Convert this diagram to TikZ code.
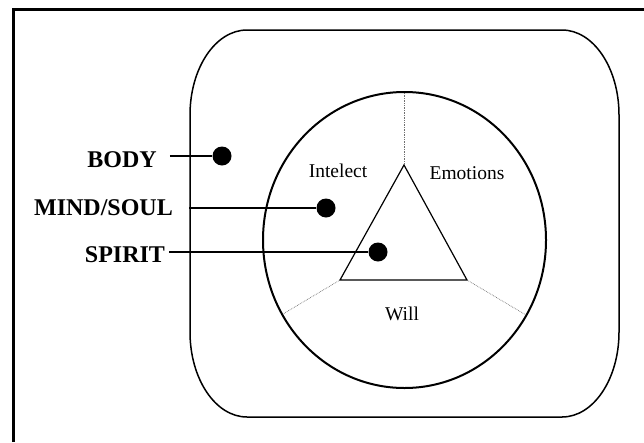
\documentclass[tikz,border=0pt]{standalone}
\usepackage{fontspec}
\setmainfont{Liberation Serif}
\usepackage{xcolor}
\usepackage{tikz}
\usetikzlibrary{positioning}
\definecolor{inkblack}{HTML}{000000}
\definecolor{sectorgray}{HTML}{707070}

\begin{document}
\begin{tikzpicture}[x=1pt, y=-1pt,
  biglabel/.style={anchor=base, inner sep=0pt, font=\fontsize{24}{24}\selectfont\bfseries},
  smalllabel/.style={anchor=base, inner sep=0pt, font=\fontsize{19.5}{20}\selectfont},
  dotnode/.style={circle, fill=inkblack, inner sep=0pt, minimum size=19pt},
  sector/.style={sectorgray, densely dotted, line width=0.7pt}]
  \useasboundingbox (0,0) rectangle (644,442);
  % frame
  \draw[inkblack, line width=3pt] (13.5,442) -- (13.5,9.5) -- (644,9.5);
  % body: rounded box
  \draw[inkblack, line width=1.5pt] (247,30) -- (562,30)
    arc[start angle=90, end angle=0, x radius=57pt, y radius=85pt] -- (619,332)
    arc[start angle=0, end angle=-90, x radius=57pt, y radius=85pt] -- (247,417)
    arc[start angle=270, end angle=180, x radius=57pt, y radius=85pt] -- (190,115)
    arc[start angle=180, end angle=90, x radius=57pt, y radius=85pt] -- cycle;
  % mind/soul: circle
  \draw[inkblack, line width=2pt] (404.5,240) ellipse [x radius=141.5pt, y radius=148pt];
  % spirit: triangle
  \coordinate (apex) at (404,165);
  \coordinate (wl) at (340,280);
  \coordinate (wr) at (467,280);
  \draw[inkblack, line width=1.2pt] (apex) -- (wl) -- (wr) -- cycle;
  % sectors
  \coordinate (top) at (404,92);
  \coordinate (lo-l) at (283,314);
  \coordinate (lo-r) at (526,315);
  \draw[sector] (apex) -- (top);
  \draw[sector] (wl) -- (lo-l);
  \draw[sector] (wr) -- (lo-r);
  \node[smalllabel] (intelect) at (338,177) {Intelect};
  \node[smalllabel] (emotions) at (467,179) {Emotions};
  \node[smalllabel] (will) at (402,320) {Will};
  % dots and labels
  \node[dotnode] (bodydot) at (222,156) {};
  \node[dotnode] (minddot) at (326,208) {};
  \node[dotnode] (spiritdot) at (378,252) {};
  \node[biglabel] (body) at (122,167) {BODY};
  \node[biglabel] (mind) at (103.5,215) {MIND/SOUL};
  \node[biglabel] (spirit) at (125,262) {SPIRIT};
  \draw[inkblack, line width=1.3pt] (body.east |- bodydot) ++(13,0) -- (bodydot);
  \draw[inkblack, line width=1.3pt] (mind.east |- minddot) ++(16,0) -- (minddot);
  \draw[inkblack, line width=1.3pt] (spirit.east |- spiritdot) ++(4,0) -- (spiritdot);
\end{tikzpicture}
\end{document}
